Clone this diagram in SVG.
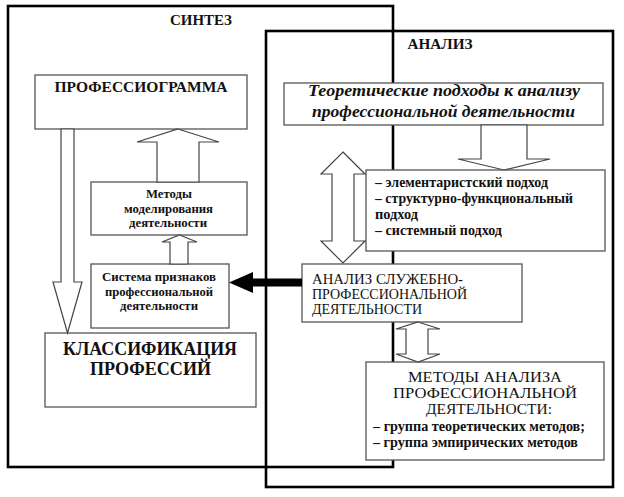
<svg xmlns="http://www.w3.org/2000/svg" width="624" height="497" viewBox="0 0 624 497" font-family="'Liberation Serif', 'DejaVu Serif', serif">
<style>
.frame{fill:none;stroke:#000;stroke-width:2.6}
.box{fill:#fff;stroke:#555;stroke-width:1.3}
.arr{fill:#fff;stroke:#444;stroke-width:1.2;stroke-linejoin:miter}
text{font-family:'Liberation Serif','DejaVu Serif',serif;fill:#111}
.b{font-weight:bold}
.c{text-anchor:middle}
</style>
<rect width="624" height="497" fill="#fff"/>
<g id="synthesis-frame">
<rect class="frame" x="8" y="6" width="385" height="461"/>
<text class="b c" x="201" y="25" font-size="14" textLength="62" lengthAdjust="spacingAndGlyphs">СИНТЕЗ</text>
</g>
<g id="analysis-frame">
<rect class="frame" x="266" y="31" width="347" height="456"/>
<text class="b c" x="440" y="49" font-size="14" textLength="65" lengthAdjust="spacingAndGlyphs">АНАЛИЗ</text>
</g>
<g id="professiogramma">
<rect class="box" x="35" y="75" width="212" height="54"/>
<text class="b c" x="141" y="92" font-size="15.5" textLength="173" lengthAdjust="spacingAndGlyphs">ПРОФЕССИОГРАММА</text>
</g>
<g id="theoretical-approaches">
<rect class="box" x="284" y="83" width="319" height="42"/>
<text class="b c" x="444" y="96" font-size="17" font-style="italic" textLength="272" lengthAdjust="spacingAndGlyphs">Теоретические подходы к анализу</text>
<text class="b c" x="443.5" y="117" font-size="17" font-style="italic" textLength="263" lengthAdjust="spacingAndGlyphs">профессиональной деятельности</text>
</g>
<g id="approaches-list">
<rect class="box" x="366" y="170" width="239" height="81"/>
<text class="b" x="375" y="187" font-size="14" textLength="173" lengthAdjust="spacingAndGlyphs">– элементаристский подход</text>
<text class="b" x="375" y="203" font-size="14" textLength="198" lengthAdjust="spacingAndGlyphs">– структурно-функциональный</text>
<text class="b" x="375" y="219" font-size="14" textLength="43" lengthAdjust="spacingAndGlyphs">подход</text>
<text class="b" x="375" y="235" font-size="14" textLength="127" lengthAdjust="spacingAndGlyphs">– системный подход</text>
</g>
<g id="modeling-methods">
<rect class="box" x="91" y="182" width="156" height="53"/>
<text class="b c" x="169" y="198" font-size="12.5" textLength="46" lengthAdjust="spacingAndGlyphs">Методы</text>
<text class="b c" x="168.5" y="213" font-size="12.5" textLength="89" lengthAdjust="spacingAndGlyphs">моделирования</text>
<text class="b c" x="168" y="227" font-size="12.5" textLength="78" lengthAdjust="spacingAndGlyphs">деятельности</text>
</g>
<g id="feature-system">
<rect class="box" x="91" y="264" width="138" height="64"/>
<text class="b c" x="159" y="281" font-size="12.5" textLength="114" lengthAdjust="spacingAndGlyphs">Система признаков</text>
<text class="b c" x="159" y="295.5" font-size="12.5" textLength="108" lengthAdjust="spacingAndGlyphs">профессиональной</text>
<text class="b c" x="159" y="310" font-size="12.5" textLength="78" lengthAdjust="spacingAndGlyphs">деятельности</text>
</g>
<g id="service-analysis">
<rect class="box" x="302" y="264" width="220" height="58"/>
<text x="312" y="284" font-size="14.5" textLength="151" lengthAdjust="spacingAndGlyphs">АНАЛИЗ  СЛУЖЕБНО-</text>
<text x="312" y="299" font-size="14.5" textLength="155" lengthAdjust="spacingAndGlyphs">ПРОФЕССИОНАЛЬНОЙ</text>
<text x="312" y="314" font-size="14.5" textLength="110" lengthAdjust="spacingAndGlyphs">ДЕЯТЕЛЬНОСТИ</text>
</g>
<g id="classification">
<rect class="box" x="45" y="333" width="211" height="74"/>
<text class="b c" x="150" y="355" font-size="18" textLength="174" lengthAdjust="spacingAndGlyphs">КЛАССИФИКАЦИЯ</text>
<text class="b c" x="150.5" y="375" font-size="18" textLength="121" lengthAdjust="spacingAndGlyphs">ПРОФЕССИЙ</text>
</g>
<g id="analysis-methods">
<rect class="box" x="366" y="362" width="238" height="98"/>
<text class="c" x="485" y="382" font-size="15.5" textLength="154" lengthAdjust="spacingAndGlyphs">МЕТОДЫ АНАЛИЗА</text>
<text class="c" x="485" y="398" font-size="15.5" textLength="184" lengthAdjust="spacingAndGlyphs">ПРОФЕССИОНАЛЬНОЙ</text>
<text class="c" x="489" y="414" font-size="15.5" textLength="126" lengthAdjust="spacingAndGlyphs">ДЕЯТЕЛЬНОСТИ:</text>
<text class="b c" x="479" y="431" font-size="14" textLength="212" lengthAdjust="spacingAndGlyphs">– группа теоретических методов;</text>
<text class="b c" x="475.5" y="447" font-size="14" textLength="205" lengthAdjust="spacingAndGlyphs">– группа эмпирических методов</text>
</g>
<g id="connectors">
<polygon class="arr" points="178,129 219,142 199,142 199,182 157,182 157,142 137,142"/>
<polygon class="arr" points="179.5,235 197,242 188,242 188,264 170,264 170,242 162,242"/>
<polygon class="arr" points="61,129 74,129 74,282 82,282 67.5,333 53,282 61,282"/>
<polygon class="arr" points="481,125 527,125 527,159 550,159 504,170 458,159 481,159"/>
<polygon class="arr" points="343,152 365,174 354,174 354,241 365,241 343,263 321,241 332,241 332,174 321,174"/>
<polygon class="arr" points="418,322 440,329 428,329 428,354 440,354 418,362 396,354 406,354 406,329 396,329"/>
<rect x="250" y="278.5" width="52" height="8" fill="#000"/>
<polygon points="229,282.5 253,272 253,293" fill="#000"/>
</g>
</svg>
